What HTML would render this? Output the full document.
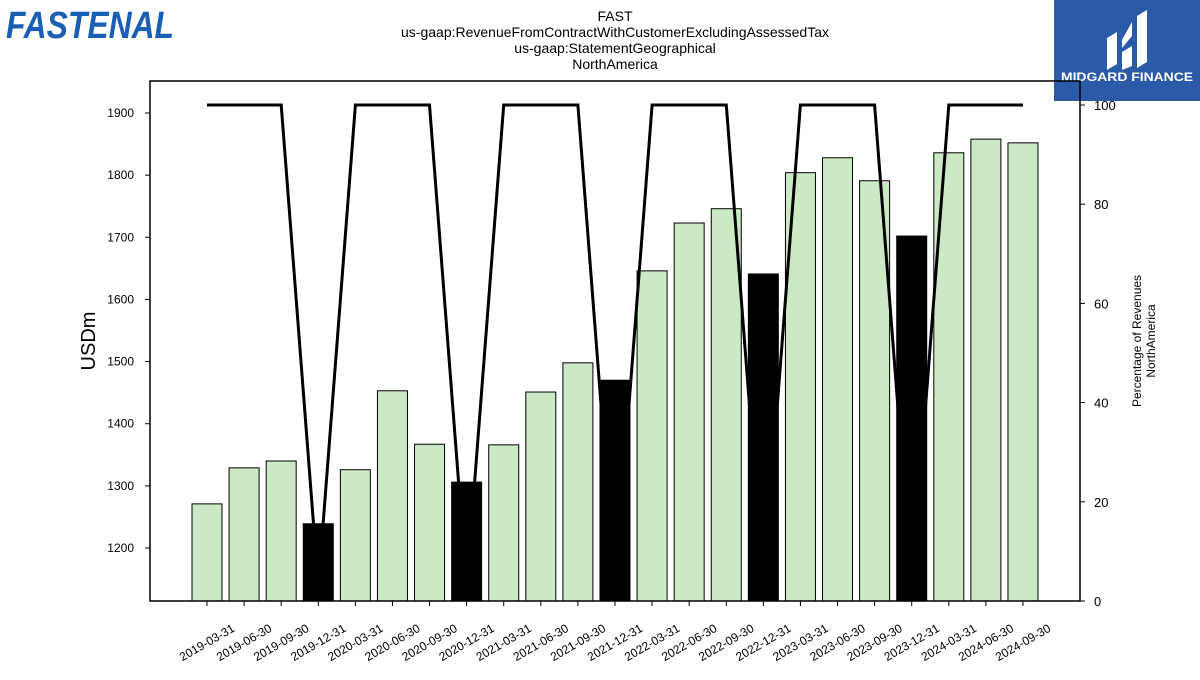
<!DOCTYPE html>
<html><head><meta charset="utf-8"><style>
body{margin:0;background:#fff;}
svg text{font-family:"Liberation Sans","DejaVu Sans",sans-serif;}
</style></head><body>
<svg id="c" width="1200" height="675" xmlns="http://www.w3.org/2000/svg">
<g font-size="14" text-anchor="middle" fill="#000">
<text x="615" y="21">FAST</text>
<text x="615" y="37">us-gaap:RevenueFromContractWithCustomerExcludingAssessedTax</text>
<text x="615" y="53">us-gaap:StatementGeographical</text>
<text x="615" y="69">NorthAmerica</text>
</g>
<text x="6" y="38" font-size="38" font-weight="bold" font-style="italic" fill="#1a5fb4" textLength="168" lengthAdjust="spacingAndGlyphs">FASTENAL</text>
<g>
<rect x="1054" y="0" width="146" height="101" fill="#2b5aa8"/>
<path d="M1107 70 V38 L1117 32 V64 Z M1122 40 L1132 22 V36 L1122 48 Z M1122 52 L1132 46 V66 L1122 70 Z M1137 68 V16 L1147 10 V62 Z" fill="#fff"/>
<text x="1127" y="81" font-size="12" font-weight="bold" fill="#fff" text-anchor="middle" textLength="132" lengthAdjust="spacingAndGlyphs">MIDGARD FINANCE</text>
</g>
<g id="plot"></g>
<text transform="translate(95,341) rotate(-90)" font-size="20" text-anchor="middle">USDm</text>
<text transform="translate(1141,341) rotate(-90)" font-size="12" text-anchor="middle"><tspan x="0" dy="0">Percentage of Revenues</tspan><tspan x="0" dy="14">NorthAmerica</tspan></text>
</svg>
<script>
const categories=["2019-03-31","2019-06-30","2019-09-30","2019-12-31","2020-03-31","2020-06-30","2020-09-30","2020-12-31","2021-03-31","2021-06-30","2021-09-30","2021-12-31","2022-03-31","2022-06-30","2022-09-30","2022-12-31","2023-03-31","2023-06-30","2023-09-30","2023-12-31","2024-03-31","2024-06-30","2024-09-30"];
const revenue=[1271,1329,1340,1239,1326,1453,1367,1306,1366,1451,1498,1470,1646,1723,1746,1641,1804,1828,1791,1702,1836,1858,1852];
const isAnnual=[0,0,0,1,0,0,0,1,0,0,0,1,0,0,0,1,0,0,0,1,0,0,0];
const percent=[100,100,100,3,100,100,100,3,100,100,100,3,100,100,100,3,100,100,100,3,100,100,100];
const leftTicks=[1200,1300,1400,1500,1600,1700,1800,1900];
const rightTicks=[0,20,40,60,80,100];
const NS="http://www.w3.org/2000/svg";
const L=150,R=1080,T=81,B=601;
const yL=v=>548-(v-1200)*0.6214;
const yR=v=>601-v*4.96;
const xC=i=>207+i*37.09;
const g=document.getElementById('plot');
function mk(t,a){const e=document.createElementNS(NS,t);for(const k in a)e.setAttribute(k,a[k]);g.appendChild(e);return e;}
revenue.forEach((v,i)=>{
 const y=yL(v);
 const r=mk('rect',{x:xC(i)-15,y:y,width:30,height:B-y,fill:isAnnual[i]?'#000':'#cce9c6',stroke:'#000','stroke-width':1});
 
 
 mk('line',{x1:xC(i),x2:xC(i),y1:B,y2:B+5,stroke:'#000'});
 const t=mk('text',{transform:`translate(${xC(i)+2},${B+45}) rotate(-30)`,'font-size':12,'text-anchor':'middle'});
 t.textContent=categories[i];
 
 
});
let d=percent.map((p,i)=>(i?'L':'M')+xC(i).toFixed(1)+' '+yR(p).toFixed(1)).join(' ');
const ln=mk('path',{d:d,fill:'none',stroke:'#000','stroke-width':3});


leftTicks.forEach(v=>{
 mk('line',{x1:L-5,x2:L,y1:yL(v),y2:yL(v),stroke:'#000'});
 const t=mk('text',{x:L-16,y:yL(v)+4,'font-size':12,'text-anchor':'end'});t.textContent=v;
 
 
});
rightTicks.forEach(v=>{
 mk('line',{x1:R,x2:R+5,y1:yR(v),y2:yR(v),stroke:'#000'});
 const t=mk('text',{x:R+14,y:yR(v)+5,'font-size':13});t.textContent=v;
 
 
});
const fr=mk('rect',{x:L,y:T,width:R-L,height:B-T,fill:'none',stroke:'#000','stroke-width':1.5});


</script>
</body></html>
